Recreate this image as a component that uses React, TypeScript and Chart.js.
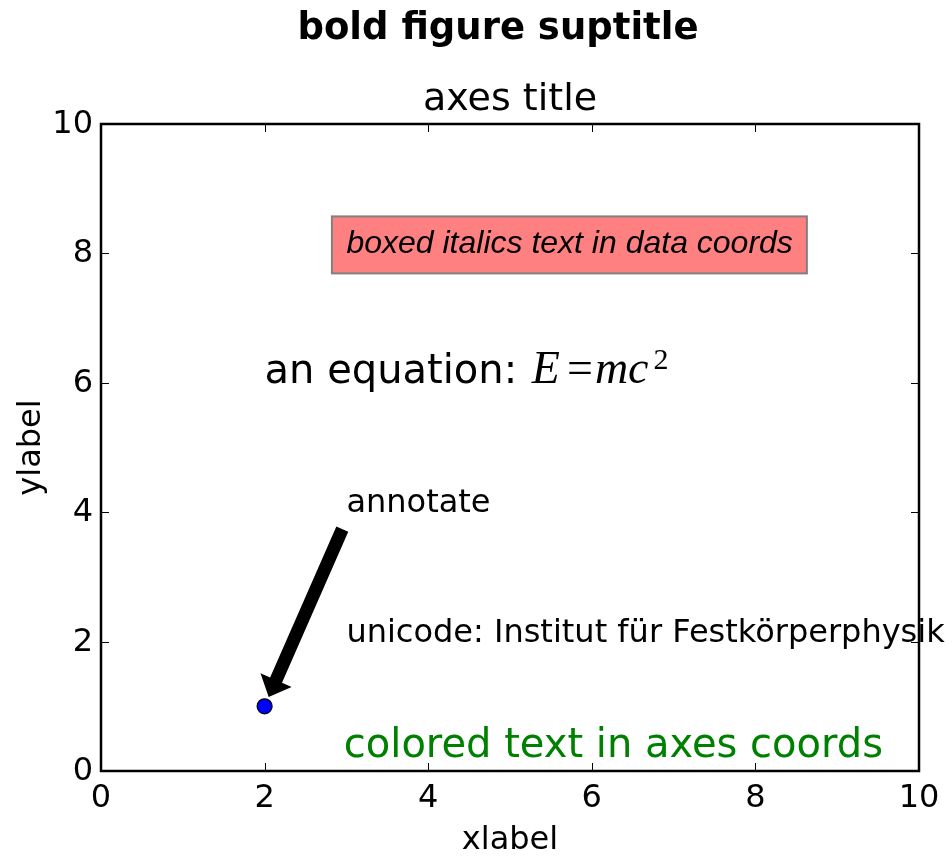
import React, { useEffect, useRef } from 'react';
import { Chart, registerables } from 'chart.js';

Chart.register(...registerables);

// ---- data ----
const pointX = [2];
const pointY = [1];
const xTicks = [0, 2, 4, 6, 8, 10];
const yTicks = [0, 2, 4, 6, 8, 10];
const xLimits = [0, 10];
const yLimits = [0, 10];

const suptitleText = 'bold figure suptitle';
const axesTitleText = 'axes title';
const xLabelText = 'xlabel';
const yLabelText = 'ylabel';

const boxedText = 'boxed italics text in data coords';
const boxedAt = [3, 8];
const equationPrefix = 'an equation: ';
const equationAt = [2, 6];
const unicodeText = 'unicode: Institut für Festkörperphysik';
const unicodeAt = [3, 2];
const annotateText = 'annotate';
const annotateTextAt = [3, 4];
const annotateXY = [2, 1];
const coloredText = 'colored text in axes coords';
const coloredAxesFrac = [0.956, 0.01];

const SANS = '"DejaVu Sans", sans-serif';
const SERIF = '"Liberation Serif", serif';

const overlayPlugin = {
  id: 'mplOverlay',
  beforeDatasetsDraw(chart: any) {
    const { ctx, chartArea: a, scales } = chart;
    const xs = scales.x;
    const ys = scales.y;
    ctx.save();
    // ticks (inward, all four sides)
    ctx.strokeStyle = '#000';
    ctx.lineWidth = 1;
    const tl = 8;
    ctx.beginPath();
    for (const t of xTicks) {
      const p = Math.round(xs.getPixelForValue(t)) + 0.5;
      ctx.moveTo(p, a.bottom);
      ctx.lineTo(p, a.bottom - tl);
      ctx.moveTo(p, a.top);
      ctx.lineTo(p, a.top + tl);
    }
    for (const t of yTicks) {
      const p = Math.round(ys.getPixelForValue(t)) + 0.5;
      ctx.moveTo(a.left, p);
      ctx.lineTo(a.left + tl, p);
      ctx.moveTo(a.right, p);
      ctx.lineTo(a.right - tl, p);
    }
    ctx.stroke();
    // spines
    ctx.lineWidth = 2.5;
    ctx.strokeRect(a.left, a.top, a.right - a.left, a.bottom - a.top);

    // tick labels
    ctx.fillStyle = '#000';
    ctx.font = '32px ' + SANS;
    ctx.textAlign = 'center';
    ctx.textBaseline = 'alphabetic';
    for (const t of xTicks) {
      ctx.fillText(String(t), xs.getPixelForValue(t), a.bottom + 36);
    }
    ctx.textAlign = 'right';
    for (const t of yTicks) {
      ctx.fillText(String(t), a.left - 8, ys.getPixelForValue(t) + 9);
    }

    // titles and labels
    const cx = (a.left + a.right) / 2;
    ctx.textAlign = 'center';
    ctx.font = '38px ' + SANS;
    ctx.fillText(axesTitleText, cx, a.top - 14);
    ctx.font = 'bold 37px ' + SANS;
    ctx.fillText(suptitleText, cx - 12, 39);
    ctx.font = '32px ' + SANS;
    ctx.fillText(xLabelText, cx, a.bottom + 78);
    ctx.save();
    ctx.translate(40, (a.top + a.bottom) / 2);
    ctx.rotate(-Math.PI / 2);
    ctx.fillText(yLabelText, 0, 0);
    ctx.restore();
    ctx.restore();
  },
  afterDraw(chart: any) {
    const { ctx, chartArea: a, scales } = chart;
    const xs = scales.x;
    const ys = scales.y;
    ctx.save();
    ctx.textBaseline = 'alphabetic';
    ctx.textAlign = 'left';

    // boxed italic text
    ctx.font = 'italic 32px "Liberation Sans", Arial, sans-serif';
    const bx = xs.getPixelForValue(boxedAt[0]);
    const by = ys.getPixelForValue(boxedAt[1]);
    const bw = ctx.measureText(boxedText).width;
    const bl = bx - 14.5;
    const br = bx + bw + 14;
    const bt = by - 37;
    const bb = by + 20;
    ctx.fillStyle = '#ff8080';
    ctx.fillRect(bl, bt, br - bl, bb - bt);
    ctx.strokeStyle = '#808080';
    ctx.lineWidth = 2;
    ctx.strokeRect(bl, bt, br - bl, bb - bt);
    ctx.fillStyle = '#000';
    ctx.fillText(boxedText, bx, by);

    // equation
    const ex = xs.getPixelForValue(equationAt[0]);
    const ey = ys.getPixelForValue(equationAt[1]);
    ctx.font = '40px ' + SANS;
    ctx.fillText(equationPrefix, ex, ey);
    let cur = ex + ctx.measureText(equationPrefix).width + 2;
    ctx.font = 'italic 46px ' + SERIF;
    ctx.fillText('E', cur, ey);
    cur += ctx.measureText('E').width + 7;
    ctx.font = '46px ' + SERIF;
    ctx.fillText('=', cur, ey);
    cur += ctx.measureText('=').width + 2;
    ctx.font = 'italic 46px ' + SERIF;
    ctx.fillText('mc', cur, ey);
    cur += ctx.measureText('mc').width + 5;
    ctx.font = '30px ' + SERIF;
    ctx.fillText('2', cur, ey - 14);

    // unicode text
    ctx.font = '32px ' + SANS;
    ctx.fillText(unicodeText, xs.getPixelForValue(unicodeAt[0]), ys.getPixelForValue(unicodeAt[1]));

    // annotate text
    const ax = xs.getPixelForValue(annotateTextAt[0]);
    const ay = ys.getPixelForValue(annotateTextAt[1]);
    ctx.fillText(annotateText, ax, ay);

    // arrow (shrink 0.05 both ends)
    const px = xs.getPixelForValue(annotateXY[0]);
    const py = ys.getPixelForValue(annotateXY[1]);
    const sx = ax;
    const sy = ay + 7.5;
    const dx = sx - px;
    const dy = sy - py;
    const tip = { x: px + 0.05 * dx, y: py + 0.05 * dy };
    const tail = { x: px + 0.95 * dx, y: py + 0.95 * dy };
    const L = Math.hypot(tail.x - tip.x, tail.y - tip.y);
    const ux = (tip.x - tail.x) / L;
    const uy = (tip.y - tail.y) / L;
    const nx = -uy;
    const ny = ux;
    const hl = 0.1 * L;
    const bw2 = 6.5;
    const hw = 17;
    const base = { x: tip.x - ux * hl, y: tip.y - uy * hl };
    ctx.beginPath();
    ctx.moveTo(tail.x + nx * bw2, tail.y + ny * bw2);
    ctx.lineTo(base.x + nx * bw2, base.y + ny * bw2);
    ctx.lineTo(base.x + nx * hw, base.y + ny * hw);
    ctx.lineTo(tip.x, tip.y);
    ctx.lineTo(base.x - nx * hw, base.y - ny * hw);
    ctx.lineTo(base.x - nx * bw2, base.y - ny * bw2);
    ctx.lineTo(tail.x - nx * bw2, tail.y - ny * bw2);
    ctx.closePath();
    ctx.fillStyle = '#000';
    ctx.fill();

    // colored text in axes coords
    ctx.font = '40px ' + SANS;
    ctx.fillStyle = '#008000';
    ctx.textAlign = 'right';
    const gx = a.left + coloredAxesFrac[0] * (a.right - a.left);
    const gy = a.bottom - coloredAxesFrac[1] * (a.bottom - a.top);
    ctx.fillText(coloredText, gx, gy - 8);
    ctx.restore();
  },
};

export default function App() {
  const ref = useRef<HTMLCanvasElement | null>(null);
  useEffect(() => {
    if (!ref.current) return;
    const chart = new Chart(ref.current, {
      type: 'scatter',
      data: {
        datasets: [
          {
            data: pointX.map((v, i) => ({ x: v, y: pointY[i] })),
            pointRadius: 7.5,
            pointBackgroundColor: '#0000ff',
            pointBorderColor: '#000000',
            pointBorderWidth: 1.2,
            showLine: false,
          },
        ],
      },
      options: {
        responsive: false,
        animation: false,
        devicePixelRatio: 1,
        events: [],
        layout: { padding: { left: 101, top: 124, right: 33, bottom: 86 } },
        scales: {
          x: { type: 'linear', min: xLimits[0], max: xLimits[1], display: false },
          y: { type: 'linear', min: yLimits[0], max: yLimits[1], display: false },
        },
        plugins: { legend: { display: false }, tooltip: { enabled: false }, title: { display: false } },
      },
      plugins: [overlayPlugin],
    } as any);
    return () => chart.destroy();
  }, []);
  return (
    <div style={{ position: 'absolute', left: 0, top: 0, width: 952, height: 857, background: '#fff' }}>
      <canvas ref={ref} width={952} height={857} style={{ display: 'block', width: 952, height: 857 }} />
    </div>
  );
}
